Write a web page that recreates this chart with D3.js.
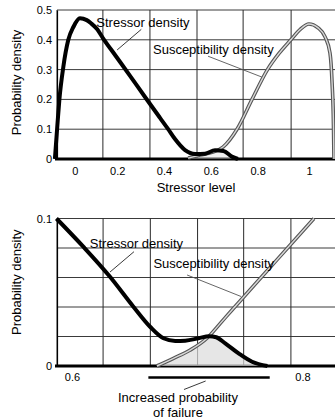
<!DOCTYPE html>
<html><head><meta charset="utf-8">
<script src="https://cdn.jsdelivr.net/npm/d3@7"></script>
<style>
html,body{margin:0;padding:0;background:#fff;}
svg{display:block;font-family:"Liberation Sans",Arial,sans-serif;}
</style></head>
<body>
<svg id="c" width="335" height="419"></svg>
<script>
// ---- Top chart data ----
const topStressorX = [-0.073,-0.063,-0.054,-0.037,-0.016,0.006,0.034,0.063,0.082,0.107,0.132,0.184,0.248,0.312,0.376,0.410,0.440,0.483,0.526,0.568,0.611,0.647,0.683,0.709];
const topStressorY = [0,0.107,0.198,0.309,0.399,0.443,0.472,0.466,0.455,0.436,0.406,0.349,0.279,0.208,0.138,0.101,0.067,0.030,0.017,0.018,0.029,0.027,0.008,0];
const topSusX = [0.496,0.547,0.602,0.645,0.705,0.769,0.835,0.885,0.935,0.975,1.012,1.051,1.081,1.102,1.111,1.117,1.119];
const topSusY = [0.003,0.013,0.023,0.040,0.100,0.200,0.300,0.355,0.400,0.435,0.453,0.440,0.410,0.356,0.255,0.114,0];
const topXTicks = [0,0.2,0.4,0.6,0.8,1];
const topXTickLabels = ["0","0.2","0.4","0.6","0.8","1"];
const topYTicks = [0,0.1,0.2,0.3,0.4,0.5];
const topYTickLabels = ["0","0.1","0.2","0.3","0.4","0.5"];
const topGridX = [-0.064,0.132,0.333,0.534,0.731,0.936,1.132];
const topCross = 0.61;

// ---- Bottom chart data ----
const botStressorX = [0.5865,0.6098,0.6330,0.6533,0.6678,0.6794,0.6896,0.6983,0.7098,0.7191,0.7252,0.7330,0.7446,0.7563,0.7696];
const botStressorY = [0.1,0.0809,0.0605,0.0402,0.0266,0.0188,0.0170,0.0172,0.0188,0.0202,0.0195,0.0154,0.0086,0.0029,0];
const botSusX = [0.6737,0.6881,0.7026,0.7171,0.7287,0.7389,0.7490,0.7678,0.7896,0.8100];
const botSusY = [0,0.0052,0.0108,0.0188,0.0289,0.0380,0.0468,0.0632,0.0822,0.1];
const botXTicks = [0.6,0.8];
const botXTickLabels = ["0.6","0.8"];
const botYGrid = [0,0.02,0.04,0.06,0.08,0.1];
const botYTicks = [0,0.1];
const botYTickLabels = ["0","0.1"];
const botGridX = [0.587,0.627,0.668,0.709,0.749,0.790,0.830];
const botCross = 0.716;
const failureRange = [0.6663,0.7716];

const svg = d3.select("#c");

function panel(opts){
  const g = svg.append("g");
  const x = d3.scaleLinear().domain(opts.xDomain).range([57,337]);
  const y = d3.scaleLinear().domain(opts.yDomain).range(opts.yRange);
  const y0 = opts.yRange[0], y1 = opts.yRange[1];
  // grid
  g.append("g").selectAll("line").data(opts.gridY).join("line")
    .attr("x1",57).attr("x2",337).attr("y1",d=>y(d)).attr("y2",d=>y(d))
    .attr("stroke","#3a3a3a").attr("stroke-width",1);
  g.append("g").selectAll("line").data(opts.gridX).join("line")
    .attr("x1",d=>x(d)).attr("x2",d=>x(d)).attr("y1",y1).attr("y2",y0)
    .attr("stroke","#2a2a2a").attr("stroke-width",1);
  // zero line
  g.append("line").attr("x1",55).attr("x2",337).attr("y1",y(0)).attr("y2",y(0))
    .attr("stroke","#000").attr("stroke-width",3);

  const sPts = opts.sx.map((v,i)=>[v,opts.sy[i]]);
  const uPts = opts.ux.map((v,i)=>[v,opts.uy[i]]);
  // overlap shading
  const ov = uPts.filter(p=>p[0]<opts.cross).concat(sPts.filter(p=>p[0]>=opts.cross));
  const area = d3.area().x(d=>x(d[0])).y0(y(0)).y1(d=>y(d[1])).curve(d3.curveMonotoneX);
  g.append("path").attr("d",area(ov)).attr("fill","#dcdcdc").attr("opacity",opts.shade);

  const line = d3.line().x(d=>x(d[0])).y(d=>y(d[1])).curve(d3.curveMonotoneX);
  g.append("path").attr("d",line(uPts)).attr("fill","none").attr("stroke","#555").attr("stroke-width",3.6);
  g.append("path").attr("d",line(uPts)).attr("fill","none").attr("stroke","#d8d8d8").attr("stroke-width",1.4);
  g.append("path").attr("d",line(sPts)).attr("fill","none").attr("stroke","#000").attr("stroke-width",4)
    .attr("stroke-linejoin","round");

  // axes
  const ya = g.append("g").attr("transform","translate(57,0)")
    .call(d3.axisLeft(y).tickValues(opts.yTicks).tickSize(0).tickPadding(5)
      .tickFormat((d,i)=>opts.yLabels[i]));
  ya.select(".domain").attr("stroke","#000").attr("stroke-width",1.2);
  ya.selectAll("text").attr("font-size",11).attr("fill","#000").attr("font-family","Liberation Sans, Arial, sans-serif");
  const xa = g.append("g").attr("transform",`translate(0,${y(0)})`)
    .call(d3.axisBottom(x).tickValues(opts.xTicks).tickSize(0).tickPadding(opts.xPad)
      .tickFormat((d,i)=>opts.xLabels[i]));
  xa.select(".domain").remove();
  xa.selectAll("text").attr("font-size",11).attr("fill","#000").attr("font-family","Liberation Sans, Arial, sans-serif")
    .attr("text-anchor",opts.xAnchor).attr("dx",opts.xDx);
  // y label
  g.append("text").attr("transform",`translate(21,${(y0+y1)/2 + opts.ylabShift}) rotate(-90)`)
    .attr("text-anchor","middle").attr("font-size",13).text("Probability density");
  return {g,x,y};
}

// Top
const T = panel({xDomain:[-0.064,1.132], yDomain:[0,0.5], yRange:[159,10],
  gridY:topYTicks, gridX:topGridX, sx:topStressorX, sy:topStressorY, ux:topSusX, uy:topSusY,
  cross:topCross, yTicks:topYTicks, yLabels:topYTickLabels, xTicks:topXTicks, xLabels:topXTickLabels,
  xPad:8, xAnchor:"end", xDx:6, ylabShift:-2, shade:0.4});
T.g.append("text").attr("x",T.x(0.53)).attr("y",191.5).attr("text-anchor","middle").attr("font-size",13).text("Stressor level");
T.g.append("text").attr("x",T.x(0.104)).attr("y",27).attr("font-size",13).text("Stressor density");
T.g.append("line").attr("x1",T.x(0.296)).attr("y1",T.y(0.435)).attr("x2",T.x(0.193)).attr("y2",T.y(0.366))
  .attr("stroke","#222").attr("stroke-width",0.9);
T.g.append("text").attr("x",T.x(0.346)).attr("y",54).attr("font-size",13).text("Susceptibility density");
T.g.append("line").attr("x1",T.x(0.581)).attr("y1",T.y(0.345)).attr("x2",T.x(0.811)).attr("y2",T.y(0.275))
  .attr("stroke","#555").attr("stroke-width",0.9);

// Bottom
const B = panel({xDomain:[0.587,0.830], yDomain:[0,0.1], yRange:[366,218.5],
  gridY:botYGrid, gridX:botGridX, sx:botStressorX, sy:botStressorY, ux:botSusX, uy:botSusY,
  cross:botCross, yTicks:botYTicks, yLabels:botYTickLabels, xTicks:botXTicks, xLabels:botXTickLabels,
  xPad:7, xAnchor:"middle", xDx:0, ylabShift:-10, shade:0.7});
B.g.append("text").attr("x",B.x(0.6155)).attr("y",248.3).attr("font-size",13).text("Stressor density");
B.g.append("line").attr("x1",B.x(0.6538)).attr("y1",B.y(0.0775)).attr("x2",B.x(0.6330)).attr("y2",B.y(0.0637))
  .attr("stroke","#222").attr("stroke-width",0.9);
B.g.append("text").attr("x",B.x(0.6707)).attr("y",267.5).attr("font-size",13).text("Susceptibility density");
B.g.append("line").attr("x1",B.x(0.6999)).attr("y1",B.y(0.0617)).attr("x2",B.x(0.7468)).attr("y2",B.y(0.0471))
  .attr("stroke","#555").attr("stroke-width",0.9);
// increased probability bar
B.g.append("line").attr("x1",B.x(failureRange[0])).attr("x2",B.x(failureRange[1])).attr("y1",377.5).attr("y2",377.5)
  .attr("stroke","#000").attr("stroke-width",2.6);
B.g.append("line").attr("x1",B.x(0.7160)).attr("y1",381).attr("x2",B.x(0.6972)).attr("y2",389.5)
  .attr("stroke","#222").attr("stroke-width",0.9);
B.g.append("text").attr("x",B.x(0.6920)).attr("y",402).attr("text-anchor","middle").attr("font-size",13).text("Increased probability");
B.g.append("text").attr("x",B.x(0.6920)).attr("y",416.5).attr("text-anchor","middle").attr("font-size",13).text("of failure");
</script>
</body></html>
